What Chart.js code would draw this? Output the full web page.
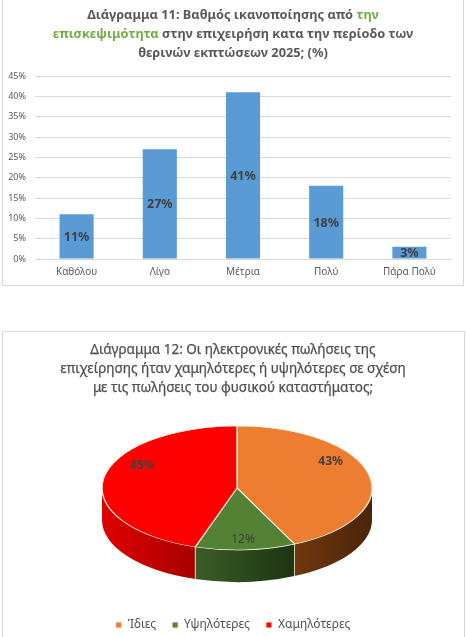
<!DOCTYPE html>
<html>
<head>
<meta charset="utf-8">
<script src="https://cdn.jsdelivr.net/npm/chart.js@4.4.1/dist/chart.umd.min.js"></script>
<style>
  html, body { margin: 0; padding: 0; background: #ffffff; width: 466px; height: 637px; overflow: hidden; }
  body { position: relative; font-family: "Noto Sans", sans-serif; }
  .box { position: absolute; border: 1px solid #d9d9d9; box-sizing: border-box; background: #fff; }
  #box1 { left: 2px; top: -2px; width: 462px; height: 288px; }
  #box2 { left: 2px; top: 331px; width: 463px; height: 320px; }
  .title { position: absolute; left: 0; width: 466px; text-align: center; color: #595959; }
  #t1 { top: 5px; font-size: 12.8px; font-weight: bold; line-height: 19px; }
  #t1 .g { color: #70ad47; }
  #t2 { top: 340px; font-size: 13.5px; line-height: 19px; color: #505050; -webkit-text-stroke: 0.25px #505050; }
  canvas { position: absolute; left: 0; }
  #c1 { top: 0; }
  #c2 { top: 331px; }
</style>
</head>
<body>
<div class="box" id="box1"></div>
<div class="box" id="box2"></div>
<canvas id="c1" width="466" height="290" style="width:466px;height:290px"></canvas>
<canvas id="c2" width="466" height="310" style="width:466px;height:310px"></canvas>
<div class="title" id="t1">Διάγραμμα 11: Βαθμός ικανοποίησης από <span class="g">την</span><br><span class="g">επισκεψιμότητα</span> στην επιχειρήση κατα την περίοδο των<br>θερινών εκπτώσεων 2025; (%)</div>
<div class="title" id="t2">Διάγραμμα 12: Οι ηλεκτρονικές πωλήσεις της<br>επιχείρησης ήταν χαμηλότερες ή υψηλότερες σε σχέση<br>με τις πωλήσεις του φυσικού καταστήματος;</div>
<script>
// ---- Data ----
const barCategories = ['Καθόλου', 'Λίγο', 'Μέτρια', 'Πολύ', 'Πάρα Πολύ'];
const barValues = [11, 27, 41, 18, 3];
const yTickMax = 45;
const yTickStep = 5;

const pieCategories = ['Ίδιες', 'Υψηλότερες', 'Χαμηλότερες'];
const pieValues = [43, 12, 45];

const FONT = '"Noto Sans", sans-serif';

// ---- Bar chart ----
const barLabelPlugin = {
  id: 'barLabels',
  afterDatasetsDraw(chart) {
    const ctx = chart.ctx;
    const meta = chart.getDatasetMeta(0);
    ctx.save();
    ctx.font = 'bold 12.5px ' + FONT;
    ctx.fillStyle = '#404040';
    ctx.textAlign = 'center';
    ctx.textBaseline = 'middle';
    meta.data.forEach((bar, i) => {
      const y = (bar.y + bar.base) / 2;
      ctx.fillText(barValues[i] + '%', bar.x, y + 1);
    });
    ctx.restore();
  }
};

new Chart(document.getElementById('c1'), {
  type: 'bar',
  data: {
    labels: barCategories,
    datasets: [{
      data: barValues,
      backgroundColor: '#5b9bd5',
      borderWidth: 0,
      barPercentage: 0.41,
      categoryPercentage: 1.0
    }]
  },
  options: {
    responsive: false,
    animation: false,
    events: [],
    layout: { padding: { top: 76, right: 15, left: 0, bottom: 0 } },
    plugins: { legend: { display: false }, tooltip: { enabled: false }, title: { display: false } },
    scales: {
      x: {
        grid: { display: false, drawTicks: false },
        border: { display: true, color: '#d9d9d9', width: 1 },
        ticks: { color: '#595959', font: { family: FONT, size: 10 }, padding: 7, maxRotation: 0 },
        afterFit(scale) { scale.height = 31; }
      },
      y: {
        min: 0, max: yTickMax,
        grid: { color: '#d9d9d9', drawTicks: false },
        border: { display: false },
        ticks: {
          stepSize: yTickStep,
          color: '#595959',
          font: { family: FONT, size: 9 },
          padding: 9,
          callback: v => v + '%'
        },
        afterFit(scale) { scale.width = 35; }
      }
    }
  },
  plugins: [barLabelPlugin]
});

// ---- 3D pie chart ----
const topColors = ['#ed7d31', '#548235', '#ff0000'];
const sideColorsA = ['#70380f', '#3a5e26', '#e00000'];
const sideColorsB = ['#4a250a', '#1d3311', '#a80000'];
const PIE = { cx: 237, cy: 157, rx: 135, ry: 62, depth: 32 };

function pieTransform(chart, ctx) {
  const a = chart.getDatasetMeta(0).data[0];
  const R = a.outerRadius;
  ctx.translate(PIE.cx, PIE.cy);
  ctx.scale(PIE.rx / R, PIE.ry / R);
  ctx.translate(-a.x, -a.y);
}

const pie3dPlugin = {
  id: 'pie3d',
  beforeDatasetsDraw(chart) {
    const ctx = chart.ctx;
    const meta = chart.getDatasetMeta(0);
    const { cx, cy, rx, ry, depth } = PIE;
    ctx.save();
    meta.data.forEach((arc, i) => {
      // visible front part is angle range [0, PI]
      [0, 2 * Math.PI, -2 * Math.PI].forEach(shift => {
        const s = Math.max(arc.startAngle + shift, 0);
        const e = Math.min(arc.endAngle + shift, Math.PI);
        if (e <= s) return;
        const x1 = cx + rx * Math.cos(s), x2 = cx + rx * Math.cos(e);
        const g = ctx.createLinearGradient(Math.max(x1, x2), 0, Math.min(x1, x2), 0);
        g.addColorStop(0, sideColorsB[i]);
        g.addColorStop(1, sideColorsA[i]);
        ctx.beginPath();
        ctx.ellipse(cx, cy, rx, ry, 0, s, e, false);
        ctx.lineTo(cx + rx * Math.cos(e), cy + depth + ry * Math.sin(e));
        ctx.ellipse(cx, cy + depth, rx, ry, 0, e, s, true);
        ctx.closePath();
        ctx.fillStyle = g;
        ctx.fill();
        ctx.strokeStyle = 'rgba(240,235,215,0.9)';
        ctx.lineWidth = 0.8;
        ctx.beginPath();
        if (arc.startAngle + shift > 0 && arc.startAngle + shift < Math.PI) {
          ctx.moveTo(cx + rx * Math.cos(s), cy + ry * Math.sin(s));
          ctx.lineTo(cx + rx * Math.cos(s), cy + depth + ry * Math.sin(s));
        }
        if (arc.endAngle + shift > 0 && arc.endAngle + shift < Math.PI) {
          ctx.moveTo(cx + rx * Math.cos(e), cy + ry * Math.sin(e));
          ctx.lineTo(cx + rx * Math.cos(e), cy + depth + ry * Math.sin(e));
        }
        ctx.stroke();
      });
    });
    ctx.restore();
    ctx.save();
    pieTransform(chart, ctx);
  },
  afterDatasetsDraw(chart) {
    const ctx = chart.ctx;
    ctx.restore();
    const meta = chart.getDatasetMeta(0);
    const { cx, cy, rx, ry } = PIE;
    ctx.save();
    ctx.textAlign = 'center';
    ctx.textBaseline = 'middle';
    meta.data.forEach((arc, i) => {
      const mid = (arc.startAngle + arc.endAngle) / 2;
      const x = cx + 0.71 * rx * Math.cos(mid);
      const y = cy - 12 + 1.03 * ry * Math.sin(mid);
      ctx.font = (i === 1 ? '' : 'bold ') + '12px ' + FONT;
      ctx.fillStyle = i === 1 ? '#3f3f3f' : '#404040';
      ctx.fillText(pieValues[i] + '%', x, y);
    });
    ctx.restore();
  }
};

new Chart(document.getElementById('c2'), {
  type: 'pie',
  data: {
    labels: pieCategories,
    datasets: [{
      data: pieValues,
      backgroundColor: topColors,
      borderColor: '#f2efe0',
      borderWidth: 1
    }]
  },
  options: {
    responsive: false,
    animation: false,
    events: [],
    layout: { padding: { top: 70, bottom: 0 } },
    plugins: {
      tooltip: { enabled: false },
      title: { display: false },
      legend: {
        display: true,
        position: 'bottom',
        labels: {
          color: '#505050',
          font: { family: FONT, size: 12 },
          boxWidth: 6,
          boxHeight: 6,
          padding: 16
        }
      }
    }
  },
  plugins: [pie3dPlugin]
});
</script>
</body>
</html>
